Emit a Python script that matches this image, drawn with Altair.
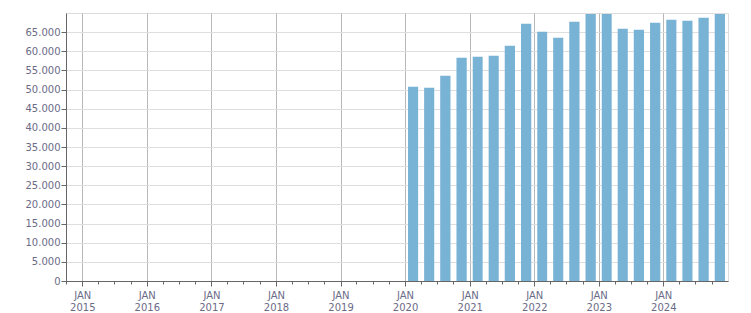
import altair as alt
import pandas as pd
from datetime import datetime, timezone

# quarterly values (2020 Q1 .. 2024 Q4)
quarter_starts = [
    "2020-01-01", "2020-04-01", "2020-07-01", "2020-10-01",
    "2021-01-01", "2021-04-01", "2021-07-01", "2021-10-01",
    "2022-01-01", "2022-04-01", "2022-07-01", "2022-10-01",
    "2023-01-01", "2023-04-01", "2023-07-01", "2023-10-01",
    "2024-01-01", "2024-04-01", "2024-07-01", "2024-10-01",
]
values = [
    50750, 50490, 53620, 58320,
    58590, 58850, 61460, 67200,
    65110, 63550, 67730, 69750,
    69750, 65900, 65640, 67470,
    68250, 67990, 68770, 69750,
]
year_ticks = list(range(2015, 2025))
y_ticks = list(range(0, 70000, 5000))

starts = pd.to_datetime(quarter_starts)
ends = starts + pd.DateOffset(months=3)
df = pd.DataFrame({
    "start": [s.strftime("%Y-%m-%dT00:00:00Z") for s in starts],
    "end": [e.strftime("%Y-%m-%dT00:00:00Z") for e in ends],
    "value": values,
    "zero": [0] * len(values),
})


def ms(y, m, d=1):
    return int(datetime(y, m, d, tzinfo=timezone.utc).timestamp() * 1000)


year_ms = [ms(y, 1) for y in year_ticks]
quarter_ms = [ms(y, m) for y in range(2014, 2025) for m in (4, 7, 10)
              if ms(2014, 10) <= ms(y, m) <= ms(2025, 1)]
domain = [ms(2014, 10), ms(2025, 1)]

TEXT = "#6b6b87"
FONT = "DejaVu Sans"

xscale = alt.Scale(type="utc", domain=domain, nice=False)
yscale = alt.Scale(domain=[0, 70000], nice=False, zero=True)

bars = alt.Chart(df).mark_bar(color="#78b2d4", xOffset=3, x2Offset=-3).encode(
    x=alt.X("start:T", scale=xscale, title=None,
            axis=alt.Axis(values=year_ms, orient="bottom",
                          labelExpr="['JAN', utcFormat(datum.value, '%Y')]",
                          grid=True, gridColor="#b8b8b8", gridWidth=1,
                          tickSize=5, tickColor="#666666",
                          domainColor="#666666",
                          labelFont=FONT, labelFontSize=10, labelColor=TEXT,
                          labelLineHeight=12, labelPadding=4,
                          labelAlign="center", labelBaseline="top")),
    x2="end:T",
    y=alt.Y("value:Q", title=None, scale=yscale,
            axis=alt.Axis(values=y_ticks, labelOverlap=False,
                          labelExpr="replace(format(datum.value, ','), ',', '.')",
                          grid=True, gridColor="#dedede",
                          tickSize=5, tickColor="#666666",
                          domainColor="#666666",
                          labelFont=FONT, labelFontSize=10, labelColor=TEXT,
                          labelPadding=1)),
    y2="zero:Q",
)

minor = alt.Chart(pd.DataFrame({"q": quarter_ms})).mark_point(opacity=0).encode(
    x=alt.X("q:T", scale=xscale, title=None,
            axis=alt.Axis(values=quarter_ms, orient="bottom", labels=False,
                          grid=False, domain=False, tickSize=3,
                          tickColor="#666666")),
)

chart = alt.layer(bars, minor).resolve_axis(x="independent").properties(
    width=662, height=268,
    autosize=alt.AutoSizeParams(type="none"),
    padding={"left": 66, "top": 13, "right": 23, "bottom": 32},
).configure_view(stroke="#dedede").configure(background="white")

chart.save("out.html", embed_options={"renderer": "svg", "actions": False})
